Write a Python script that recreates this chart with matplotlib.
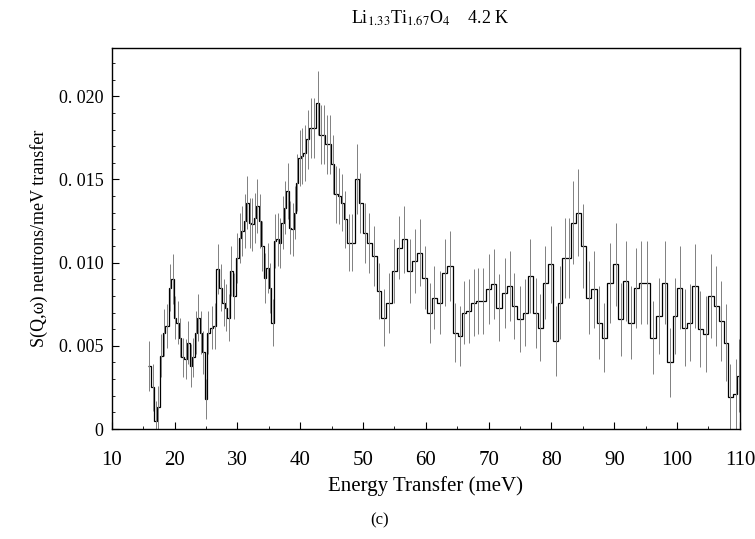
import numpy as np
import matplotlib
matplotlib.use("Agg")
import matplotlib.pyplot as plt
from matplotlib.ticker import FixedLocator, MultipleLocator

plt.rcParams['font.family'] = ['Liberation Serif', 'DejaVu Serif']
plt.rcParams['mathtext.fontset'] = 'stix'

# bin centres (meV), S(Q,w) and error
energy = [16.0, 16.5, 17.0, 17.4, 17.9, 18.3, 18.8, 19.3, 19.7, 20.1,
          20.5, 20.9, 21.3, 21.8, 22.2, 22.6, 23.0, 23.4, 23.8, 24.2,
          24.6, 25.0, 25.4, 25.9, 26.4, 26.9, 27.4, 27.8, 28.2, 28.6,
          29.0, 29.5, 30.0, 30.4, 30.8, 31.2, 31.6, 32.0, 32.4, 32.8,
          33.2, 33.6, 34.0, 34.4, 34.8, 35.2, 35.6, 36.0, 36.4, 36.8,
          37.2, 37.6, 38.0, 38.4, 38.8, 39.1, 39.5, 39.9, 40.3, 40.7,
          41.2, 41.7, 42.2, 42.8, 43.3, 43.8, 44.2, 44.7, 45.2, 45.7,
          46.2, 46.7, 47.2, 47.7, 48.3, 49.0, 49.6, 50.3, 51.0, 51.8,
          52.5, 53.3, 54.1, 55.0, 55.8, 56.6, 57.5, 58.2, 59.0, 59.9,
          60.6, 61.3, 62.2, 63.0, 63.8, 64.7, 65.4, 66.0, 66.9, 67.6,
          68.3, 69.1, 70.0, 70.8, 71.6, 72.6, 73.4, 74.1, 75.0, 75.8,
          76.6, 77.5, 78.2, 79.0, 79.9, 80.7, 81.4, 82.1, 82.8, 83.5,
          84.3, 85.1, 85.9, 86.8, 87.6, 88.4, 89.3, 90.2, 91.0, 91.8,
          92.7, 93.5, 94.3, 95.2, 96.1, 97.1, 98.0, 98.9, 99.7, 100.4,
          101.2, 102.0, 102.9, 103.7, 104.6, 105.4, 106.2, 107.0, 107.8, 108.5,
          109.3, 109.9]
sqw = [0.0038, 0.0025, 0.0005, 0.0013, 0.0044, 0.0058, 0.0062, 0.0085, 0.0090, 0.0067,
       0.0064, 0.0055, 0.0043, 0.0042, 0.0052, 0.0038, 0.0043, 0.0058, 0.0067, 0.0058,
       0.0046, 0.0018, 0.0058, 0.0061, 0.0062, 0.0096, 0.0085, 0.0076, 0.0073, 0.0067,
       0.0095, 0.0080, 0.0103, 0.0115, 0.0119, 0.0125, 0.0136, 0.0124, 0.0123, 0.0127,
       0.0134, 0.0125, 0.0110, 0.0091, 0.0097, 0.0085, 0.0064, 0.0113, 0.0114, 0.0112,
       0.0124, 0.0133, 0.0143, 0.0121, 0.0120, 0.0130, 0.0148, 0.0163, 0.0164, 0.0166,
       0.0174, 0.0181, 0.0181, 0.0196, 0.0177, 0.0177, 0.0171, 0.0171, 0.0159, 0.0141,
       0.0140, 0.0136, 0.0126, 0.0112, 0.0112, 0.0150, 0.0136, 0.0118, 0.0112, 0.0104,
       0.0083, 0.0067, 0.0076, 0.0095, 0.0109, 0.0114, 0.0095, 0.0101, 0.0106, 0.0091,
       0.0070, 0.0079, 0.0076, 0.0094, 0.0098, 0.0058, 0.0056, 0.0070, 0.0071, 0.0076,
       0.0077, 0.0077, 0.0084, 0.0087, 0.0073, 0.0082, 0.0086, 0.0074, 0.0066, 0.0070,
       0.0092, 0.0070, 0.0061, 0.0088, 0.0099, 0.0053, 0.0076, 0.0103, 0.0103, 0.0124,
       0.0130, 0.0110, 0.0079, 0.0084, 0.0064, 0.0055, 0.0088, 0.0099, 0.0066, 0.0089,
       0.0064, 0.0085, 0.0088, 0.0088, 0.0055, 0.0068, 0.0088, 0.0040, 0.0068, 0.0085,
       0.0061, 0.0064, 0.0086, 0.0060, 0.0057, 0.0080, 0.0074, 0.0065, 0.0052, 0.0019,
       0.0021, 0.0032]
err = [0.0015, 0.0014, 0.0012, 0.0013, 0.0013, 0.0014, 0.0013, 0.0014, 0.0015, 0.0013,
       0.0013, 0.0012, 0.0012, 0.0012, 0.0013, 0.0013, 0.0012, 0.0013, 0.0014, 0.0013,
       0.0013, 0.0012, 0.0013, 0.0013, 0.0014, 0.0015, 0.0014, 0.0014, 0.0014, 0.0014,
       0.0015, 0.0014, 0.0015, 0.0015, 0.0015, 0.0016, 0.0016, 0.0015, 0.0016, 0.0015,
       0.0016, 0.0016, 0.0015, 0.0015, 0.0015, 0.0015, 0.0014, 0.0016, 0.0016, 0.0015,
       0.0016, 0.0016, 0.0017, 0.0016, 0.0016, 0.0016, 0.0017, 0.0017, 0.0017, 0.0017,
       0.0018, 0.0018, 0.0018, 0.0019, 0.0018, 0.0018, 0.0018, 0.0018, 0.0018, 0.0017,
       0.0017, 0.0017, 0.0017, 0.0017, 0.0017, 0.0021, 0.0018, 0.0018, 0.0018, 0.0018,
       0.0017, 0.0017, 0.0018, 0.0019, 0.0019, 0.0020, 0.0019, 0.0019, 0.0020, 0.0019,
       0.0018, 0.0019, 0.0019, 0.0020, 0.0021, 0.0018, 0.0018, 0.0019, 0.0019, 0.0020,
       0.0020, 0.0020, 0.0021, 0.0021, 0.0020, 0.0021, 0.0021, 0.0020, 0.0020, 0.0020,
       0.0022, 0.0021, 0.0020, 0.0022, 0.0023, 0.0021, 0.0022, 0.0024, 0.0024, 0.0025,
       0.0026, 0.0025, 0.0022, 0.0023, 0.0022, 0.0021, 0.0024, 0.0025, 0.0022, 0.0024,
       0.0022, 0.0024, 0.0025, 0.0025, 0.0022, 0.0023, 0.0025, 0.0021, 0.0023, 0.0025,
       0.0023, 0.0023, 0.0025, 0.0023, 0.0023, 0.0025, 0.0024, 0.0024, 0.0023, 0.0020,
       0.0021, 0.0022]

ytick_vals = [0, 0.005, 0.010, 0.015, 0.020]
ytick_labels = ["0", "0. 005", "0. 010", "0. 015", "0. 020"]

e = np.array(energy)
s = np.array(sqw)
de = np.array(err)
mid = (e[1:] + e[:-1]) / 2
edges = np.concatenate([[e[0] - (e[1] - e[0]) / 2], mid, [e[-1] + (e[-1] - e[-2]) / 2]])

fig = plt.figure(figsize=(7.55, 5.39), dpi=100)
ax = fig.add_axes([0.148, 0.204, 0.832, 0.707])

ax.vlines(e, s - de, s + de, color='0.5', lw=0.7)
ax.stairs(s, edges, color='black', lw=0.9, baseline=None)

ax.set_xlim(10, 110)
ax.set_ylim(0, 0.0229)
ax.xaxis.set_major_locator(MultipleLocator(10))
ax.xaxis.set_minor_locator(MultipleLocator(5))
ax.yaxis.set_major_locator(FixedLocator(ytick_vals))
ax.set_yticklabels(ytick_labels)
ax.yaxis.set_minor_locator(MultipleLocator(0.001))
ax.tick_params(direction='in', which='both', top=False, right=False)
ax.tick_params(axis='x', labelsize=15, pad=16)
ax.tick_params(axis='y', labelsize=13, pad=6)
ax.tick_params(which='major', length=5)
ax.tick_params(which='minor', length=2.5)
for sp in ax.spines.values():
    sp.set_linewidth(1.0)

ax.set_xlabel("Energy Transfer (meV)", fontsize=15, labelpad=4)
ax.set_ylabel("S(Q,ω) neutrons/meV transfer", fontsize=13, labelpad=8)
fig.text(0.57, 0.966, "Li$_{1.33}$Ti$_{1.67}$O$_4$    4.2 K", ha='center', va='center', fontsize=13)
fig.text(0.503, 0.035, "(c)", ha='center', va='center', fontsize=12)

fig.savefig("out.png", dpi=100)
